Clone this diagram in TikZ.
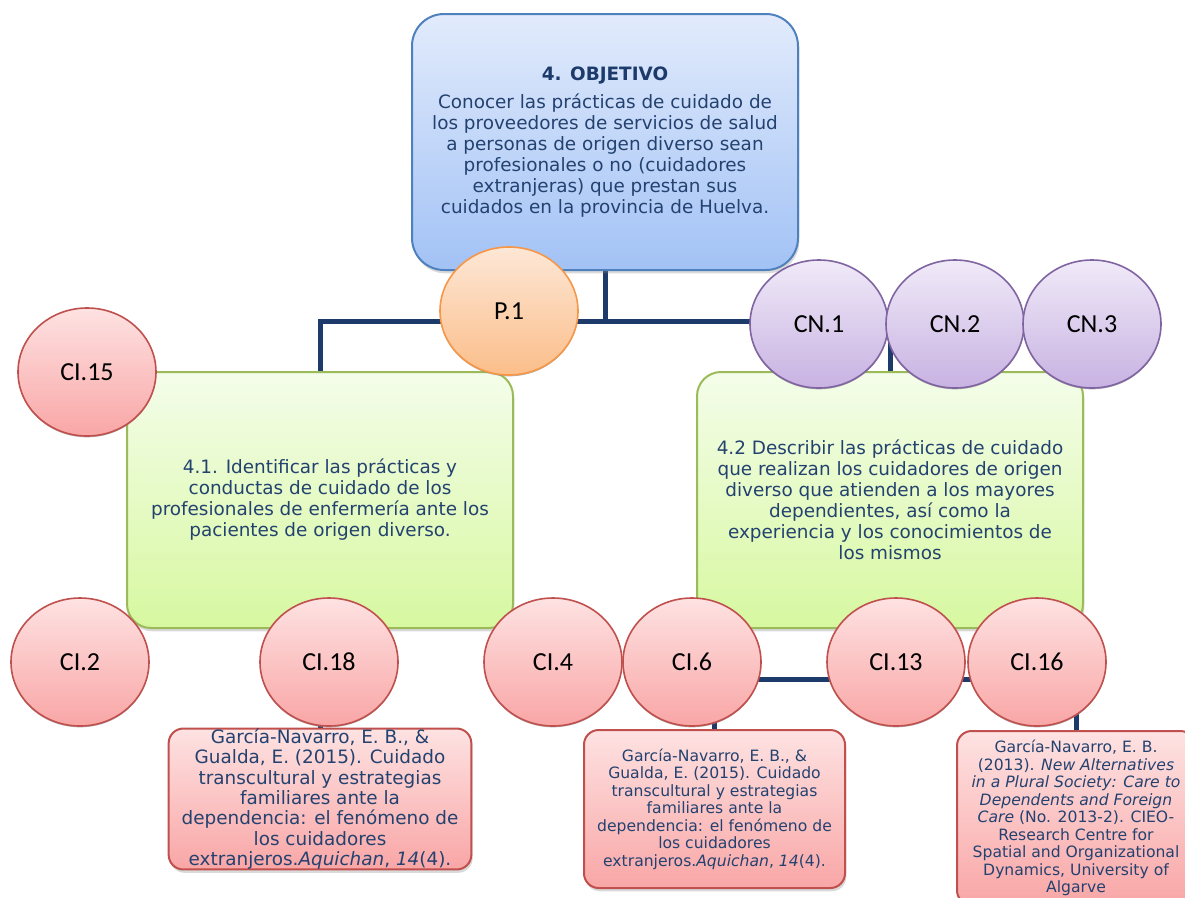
\documentclass[tikz,border=0pt]{standalone}
\usepackage{fontspec}
\setmainfont{DejaVu Sans}
\newfontfamily\carlito{Carlito}
\usetikzlibrary{shapes,positioning,shadows}
\pgfdeclarelayer{back}
\pgfsetlayers{back,main}
\definecolor{navy}{RGB}{28,58,106}
\definecolor{txtblue}{RGB}{35,66,112}
\definecolor{objline}{RGB}{79,129,189}
\definecolor{objtop}{RGB}{226,235,252}
\definecolor{objbot}{RGB}{162,194,245}
\definecolor{aimline}{RGB}{155,187,89}
\definecolor{aimtop}{RGB}{244,253,234}
\definecolor{aimbot}{RGB}{215,248,160}
\definecolor{ciline}{RGB}{192,80,77}
\definecolor{citop}{RGB}{254,226,226}
\definecolor{cibot}{RGB}{249,166,166}
\definecolor{cnline}{RGB}{128,100,162}
\definecolor{cntop}{RGB}{240,234,248}
\definecolor{cnbot}{RGB}{200,178,226}
\definecolor{prline}{RGB}{247,150,70}
\definecolor{prtop}{RGB}{253,231,214}
\definecolor{prbot}{RGB}{251,190,138}

\begin{document}
\begin{tikzpicture}[x=0.75pt,y=-0.75pt,
	box/.style={draw,line width=1.5pt,align=center,text=txtblue,inner sep=0pt,
		font=\fontsize{13.8}{15.75}\selectfont,
		drop shadow={opacity=0.3,shadow xshift=1pt,shadow yshift=-2.5pt}},
	objbox/.style={box,draw=objline,top color=objtop,bottom color=objbot,rounded corners=24pt,
		minimum width=289.5pt,minimum height=192pt},
	aimbox/.style={box,draw=aimline,top color=aimtop,bottom color=aimbot,rounded corners=18pt,
		minimum width=289.5pt,minimum height=192pt},
	refbox/.style={box,draw=ciline,top color=citop,bottom color=cibot,rounded corners=11pt},
	small/.style={font=\fontsize{11.7}{13.1}\selectfont},
	bubble/.style={ellipse,draw,line width=1.2pt,inner sep=0pt,minimum width=103.5pt,minimum height=96pt,
		font=\carlito\fontsize{19.5}{22}\selectfont,
		drop shadow={opacity=0.6,shadow xshift=0pt,shadow yshift=-1pt}},
	ci/.style={bubble,draw=ciline,top color=citop,bottom color=cibot},
	cn/.style={bubble,draw=cnline,top color=cntop,bottom color=cnbot},
	pr/.style={bubble,draw=prline,top color=prtop,bottom color=prbot},
	link/.style={draw=navy,line width=3.75pt}]
\useasboundingbox (0,0) rectangle (1185,897);

\node[objbox] (obj) at (605,142) {{\bfseries\color{navy}4. OBJETIVO}\\[5pt]
	Conocer las prácticas de cuidado de\\los proveedores de servicios de salud\\
	a personas de origen diverso sean\\profesionales o no (cuidadores\\
	extranjeras) que prestan sus\\cuidados en la provincia de Huelva.};

\node[aimbox] (aim1) at (320,500) {4.1. Identificar las prácticas y\\conductas de cuidado de los\\
	profesionales de enfermería ante los\\pacientes de origen diverso.};
\node[aimbox] (aim2) at (890,500) {4.2 Describir las prácticas de cuidado\\que realizan los cuidadores de origen\\
	diverso que atienden a los mayores\\dependientes, así como la\\
	experiencia y los conocimientos de\\los mismos};

\node[refbox,minimum width=227pt,minimum height=103.5pt,font=\fontsize{13.8}{15.3}\selectfont] (ref1) at (320,799) {García-Navarro, E. B., \&\\
	Gualda, E. (2015). Cuidado\\transcultural y estrategias\\familiares ante la\\
	dependencia: el fenómeno de\\los cuidadores\\extranjeros.\textit{Aquichan}, \textit{14}(4).};
\node[refbox,small,minimum width=195.75pt,minimum height=118.5pt] (ref2) at (714.5,809) {García-Navarro, E. B., \&\\
	Gualda, E. (2015). Cuidado\\transcultural y estrategias\\familiares ante la\\
	dependencia: el fenómeno de\\los cuidadores\\extranjeros.\textit{Aquichan}, \textit{14}(4).};
\node[refbox,small,minimum width=178.5pt,minimum height=130.5pt] (ref3) at (1076,818) {García-Navarro, E. B.\\
	(2013). \textit{New Alternatives}\\\textit{in a Plural Society: Care to}\\
	\textit{Dependents and Foreign}\\\textit{Care} (No. 2013-2). CIEO-\\Research Centre for\\
	Spatial and Organizational\\Dynamics, University of\\Algarve};

\foreach \n/\x/\y in {15/87/372, 2/80/662, 18/329/662, 4/553/662, 6/692/662, 13/896/662, 16/1037/662}
	\node[ci] (ci\n) at (\x,\y) {CI.\n};
\foreach \n/\x in {1/819, 2/955, 3/1092}
	\node[cn] (cn\n) at (\x,324) {CN.\n};
\node[pr] (p1) at (509,311) {P.1};

\begin{pgfonlayer}{back}
\coordinate (hub) at (605,321);
\coordinate (hub2) at (890,679);
\draw[link] (obj.south) -- (hub);
\draw[link] (aim1.north) |- (hub) -| (aim2.north);
\draw[link] (aim1.south) -- (ref1.north);
\draw[link] (aim2.south) -- (hub2);
\draw[link] (ref2.north) |- (hub2) -| (ref3.north);
\end{pgfonlayer}
\end{tikzpicture}
\end{document}
